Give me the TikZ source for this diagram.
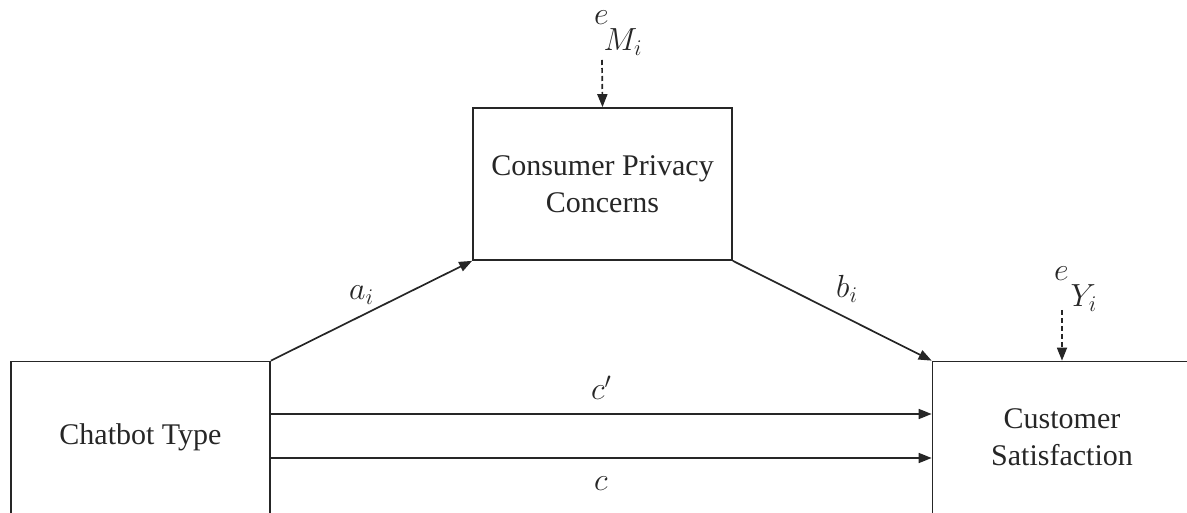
\documentclass[tikz,border=0pt]{standalone}
\usepackage{fix-cm}
\usepackage{fontspec}
\setmainfont{LiberationSerif}[Extension=.ttf, UprightFont=*-Regular, BoldFont=*-Bold, ItalicFont=*-Italic, BoldItalicFont=*-BoldItalic]
\usetikzlibrary{arrows.meta}

\begin{document}
\begin{tikzpicture}[x=1pt,y=1pt,
  box/.style={draw=black!85, line width=1.7pt, minimum width=259pt, minimum height=152pt,
    inner sep=0pt, align=center, font=\fontsize{30}{37}\selectfont, text=black!85},
  link/.style={draw=black!85, line width=1.7pt, -{Triangle[length=13pt,width=10pt]}},
  errlink/.style={link, dash pattern=on 5pt off 3pt},
  lbl/.style={font=\fontsize{32}{40}\selectfont, text=black!85, inner sep=0pt, anchor=base west}]
\useasboundingbox (0,0) rectangle (1187,512);
\begin{scope}
\clip (0,0) rectangle (1187,512);
% the three variables
\node[box] (chat) at (140.5,74.5) {Chatbot Type};
\node[box] (cpc) at (602.5,328) {Consumer Privacy\\Concerns};
\node[box] (cs) at (1062,74.5) {Customer\\Satisfaction};
% error terms
\coordinate (eMsrc) at (602,452);
\coordinate (eYsrc) at (1062,202);
\draw[errlink] (eMsrc) -- (cpc.north);
\draw[errlink] (eYsrc) -- (cs.north);
\node[lbl] (eM) at (594,487) {$e\kern-5pt\raisebox{-26pt}{$M_i$}$};
\node[lbl] (eY) at (1054,231) {$e\kern2pt\raisebox{-26pt}{$Y_i$}$};
% paths
\draw[link] (chat.north east) -- (cpc.south west);
\draw[link] (cpc.south east) -- (cs.north west);
\coordinate (cpS) at (270,98);
\coordinate (cS) at (270,54);
\draw[link] (cpS) -- (cpS -| cs.west);
\draw[link] (cS) -- (cS -| cs.west);
\node[lbl] (la) at (349,212) {$a_i$};
\node[lbl] (lb) at (836,214) {$b_i$};
\node[lbl] (lcp) at (591,112) {$c'$};
\node[lbl] (lc) at (594,22) {$c$};
\end{scope}
\end{tikzpicture}
\end{document}
